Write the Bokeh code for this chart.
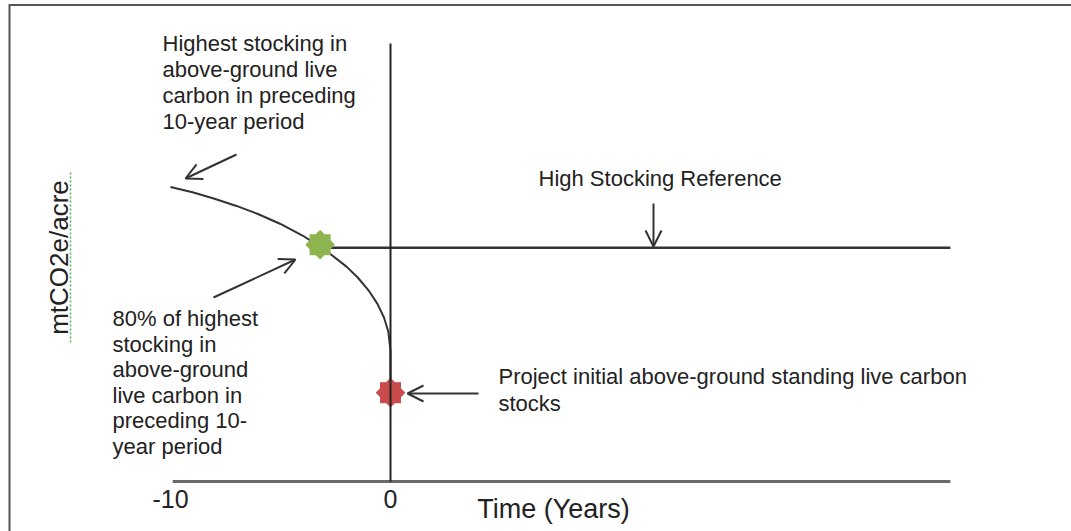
import numpy as np
from bokeh.plotting import figure
from bokeh.models import Range1d, Arrow, OpenHead
from bokeh.core.properties import value
from bokeh.embed import file_html
from bokeh.resources import INLINE

# ---------------- data (years, mtCO2e/acre) ----------------
curve_t = [-10, -9, -8, -7, -6, -5, -4, -3, -2, -1.5, -1, -0.6, -0.3, -0.1, 0, 0]
curve_c = [99.5, 97.7, 95.5, 93.1, 90.3, 87.0, 83.1, 78.4, 72.6, 69.0, 64.6, 60.1, 55.5, 50.7, 44.3, 30]
star80_t, star80_c = [-3.2], [80]          # 80% of highest stocking
initial_t, initial_c = [0], [30]           # project initial stocks
high_ref_level = 79
axis_start, axis_end = -9.9, 25.45
time0_top = 148
x_ticks = [-10, 0]
tick_labels = ["-10", "0"]

# pixel -> data helpers for annotation placement
def dx(px):
    return (px - 390) / 22.0

def dy(py):
    return (481 - py) / 2.96

W, H = 1071, 531
p = figure(width=W, height=H, output_backend="svg", toolbar_location=None,
           x_range=Range1d(dx(0), dx(W)), y_range=Range1d(dy(H), dy(0)),
           x_axis_type=None, y_axis_type=None, min_border=0,
           background_fill_color="white", border_fill_color="white")
p.grid.visible = False
p.outline_line_color = None

# picture border (top and left visible)
p.line([dx(9), dx(9), dx(W + 10)], [dy(H + 10), dy(4.5), dy(4.5)],
       line_color="#555555", line_width=2, line_join="miter")

FONT = value("Liberation Sans")
TXT = "#222222"
LC = "#333333"

# x axis line
p.line([axis_start, axis_end], [0, 0], line_color="#6a6a6a", line_width=3)
# high stocking reference line
p.line([star80_t[0], axis_end], [high_ref_level, high_ref_level], line_color=LC, line_width=2.5)
# stocking curve
p.line(curve_t, curve_c, line_color=LC, line_width=2)
# stars (8-pointed from two squares)
for ang in (0, np.pi / 4):
    p.scatter(star80_t, star80_c, marker="square", size=21, angle=ang,
              fill_color="#8db44f", line_color=None)
for ang in (0, np.pi / 4):
    p.scatter(initial_t, initial_c, marker="square", size=21, angle=ang,
              fill_color="#c94b4b", line_color=None)
# time zero vertical line
p.line([0, 0], [0, time0_top], line_color="#222222", line_width=2)

# tick labels
p.text(x=x_ticks, y=[dy(498)] * 2, text=tick_labels, text_font=FONT, text_font_size="25px",
       text_align="center", text_baseline="middle", text_color=TXT)
# axis titles
p.text(x=[dx(553)], y=[dy(508)], text=["Time (Years)"], text_font=FONT, text_font_size="27px",
       text_align="center", text_baseline="middle", text_color=TXT)
p.text(x=[dx(58)], y=[dy(257)], text=["mtCO2e/acre"], text_font=FONT, text_font_size="26px",
       angle=np.pi / 2, text_align="center", text_baseline="middle", text_color=TXT)
p.line([dx(70), dx(70)], [dy(172), dy(342)], line_color="#4fb04f", line_width=1.5, line_dash="2 2")

# annotation blocks
block1 = ["Highest stocking in", "above-ground live", "carbon in preceding", "10-year period"]
p.text(x=[dx(162)] * 4, y=[dy(43 + 26 * i) for i in range(4)], text=block1, text_font=FONT,
       text_font_size="22px", text_align="left", text_baseline="middle", text_color=TXT)
block2 = ["80% of highest", "stocking in", "above-ground", "live carbon in", "preceding 10-", "year period"]
p.text(x=[dx(112)] * 6, y=[dy(318 + 25.5 * i) for i in range(6)], text=block2, text_font=FONT,
       text_font_size="22px", text_align="left", text_baseline="middle", text_color=TXT)
p.text(x=[dx(538)], y=[dy(178)], text=["High Stocking Reference"], text_font=FONT,
       text_font_size="22px", text_align="left", text_baseline="middle", text_color=TXT)
block4 = ["Project initial above-ground standing live carbon", "stocks"]
p.text(x=[dx(498)] * 2, y=[dy(376), dy(403)], text=block4, text_font=FONT,
       text_font_size="22px", text_align="left", text_baseline="middle", text_color=TXT)

# arrows
arrows = [((236, 154), (185, 178)), ((213, 297), (295, 259)),
          ((653, 203), (653, 246)), ((478, 393), (407, 393))]
for (sx, sy), (ex, ey) in arrows:
    p.add_layout(Arrow(end=OpenHead(size=16, line_width=2, line_color=LC),
                       x_start=dx(sx), y_start=dy(sy), x_end=dx(ex), y_end=dy(ey),
                       line_width=2, line_color=LC))

open("out.html", "w").write(file_html(p, INLINE))
